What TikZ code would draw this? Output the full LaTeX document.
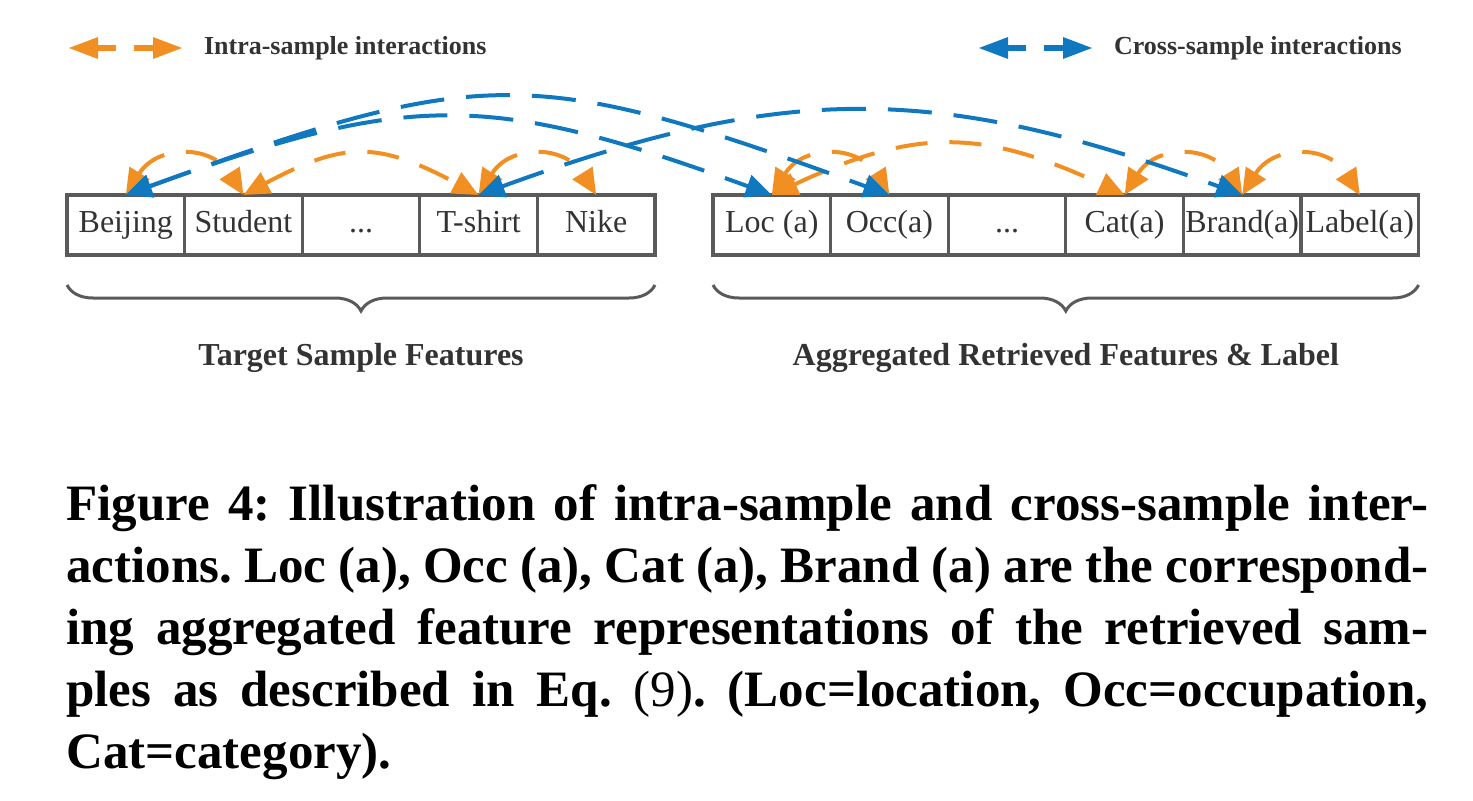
\documentclass[tikz,border=0pt]{standalone}
\usepackage{fontspec}
\setmainfont{Liberation Serif}
\usetikzlibrary{arrows.meta, positioning, decorations.pathreplacing}
\definecolor{intraorange}{HTML}{F18F22}
\definecolor{crossblue}{HTML}{1078BE}
\definecolor{boxgray}{HTML}{5A5A5A}
\definecolor{textgray}{HTML}{333333}

\begin{document}
\begin{tikzpicture}[x=0.5pt, y=0.5pt,
    every node/.style={text=textgray},
    cell/.style={draw=boxgray, line width=1.6pt, minimum width=58.8pt, minimum height=30pt,
                 inner sep=0pt, outer sep=0pt, text height=11pt, text depth=3.5pt,
                 font=\fontsize{16}{18}\selectfont},
    twohead/.style={{Triangle[length=13pt,width=11.5pt]}-{Triangle[length=13pt,width=11.5pt]}},
    inarr/.style={twohead, color=intraorange, line width=2pt, dash pattern=on 16pt off 11pt},
    crarr/.style={twohead, color=crossblue, line width=2pt, dash pattern=on 22pt off 11pt},
    legarr/.style={{Triangle[length=15pt,width=10pt]}-{Triangle[length=15pt,width=10pt]},
                   line width=3pt, dash pattern=on 9.5pt off 9pt},
    legtxt/.style={font=\fontsize{13}{15}\selectfont\bfseries},
    brc/.style={decorate, decoration={brace, mirror, amplitude=13pt}, draw=boxgray, line width=1.5pt},
    grp/.style={font=\fontsize{16}{18}\selectfont\bfseries},
  ]
  \useasboundingbox (0,0) rectangle (1473,800);

  % legend
  \coordinate (la) at (68,752);
  \coordinate (lb) at (183,752);
  \draw[legarr, color=intraorange] (la) -- (lb);
  \node[legtxt, right=7pt of lb] (lintra) {Intra-sample interactions};
  \coordinate (lc) at (978,752);
  \coordinate (ld) at (1093,752);
  \draw[legarr, color=crossblue] (lc) -- (ld);
  \node[legtxt, right=7pt of ld] (lcross) {Cross-sample interactions};

  % target sample
  \node[cell] (bj) at (125.8,575) {Beijing};
  \node[cell, right=0pt of bj] (st) {Student};
  \node[cell, right=0pt of st] (d1) {...};
  \node[cell, right=0pt of d1] (ts) {T-shirt};
  \node[cell, right=0pt of ts] (nk) {Nike};

  % aggregated retrieved
  \node[cell] (loc) at (771.8,575) {Loc (a)};
  \node[cell, right=0pt of loc] (occ) {Occ(a)};
  \node[cell, right=0pt of occ] (d2) {...};
  \node[cell, right=0pt of d2] (cat) {Cat(a)};
  \node[cell, right=0pt of cat] (brd) {Brand(a)};
  \node[cell, right=0pt of brd] (lbl) {Label(a)};

  \draw[brc] ([yshift=-15pt]bj.south west) -- ([yshift=-15pt]nk.south east)
    node[midway, anchor=base, yshift=-40pt, grp] (tgt) {Target Sample Features};
  \draw[brc] ([yshift=-15pt]loc.south west) -- ([yshift=-15pt]lbl.south east)
    node[midway, anchor=base, yshift=-40pt, grp] (agg) {Aggregated Retrieved Features \& Label};

  % intra-sample
  \draw[inarr] (bj.north) to[out=58,in=122,looseness=1.3] (st.north);
  \draw[inarr] (st.north) to[out=28,in=152,looseness=1.25] (ts.north);
  \draw[inarr] (ts.north) to[out=58,in=122,looseness=1.3] (nk.north);
  \draw[inarr] (loc.north) to[out=58,in=122,looseness=1.3] (occ.north);
  \draw[inarr] (loc.north) to[out=25,in=155,looseness=1.15] (cat.north);
  \draw[inarr] (cat.north) to[out=58,in=122,looseness=1.3] (brd.north);
  \draw[inarr] (brd.north) to[out=58,in=122,looseness=1.3] (lbl.north);

  % cross-sample
  \draw[crarr] (bj.north) to[out=20,in=160,looseness=1.2] (loc.north);
  \draw[crarr] (bj.north) to[out=20,in=160,looseness=1.28] (occ.north);
  \draw[crarr] (ts.north) to[out=20,in=160,looseness=1.1] (brd.north);

  \node[anchor=north west, text width=681pt, align=justify, inner sep=0pt, text=black,
        font=\fontsize{25.5}{31}\selectfont\bfseries] (cap) at (66,316)
    {\frenchspacing\tolerance=10000 \hyphenpenalty=10000 \exhyphenpenalty=10000
     Figure 4: Illustration of intra-sample and cross-sample inter-\linebreak
     actions. Loc (a), Occ (a), Cat (a), Brand (a) are the correspond-\linebreak
     ing aggregated feature representations of the retrieved sam-\linebreak
     ples as described in Eq.\ {\mdseries (9)}. (Loc=location, Occ=occupation,\linebreak
     Cat=category).};
\end{tikzpicture}
\end{document}
